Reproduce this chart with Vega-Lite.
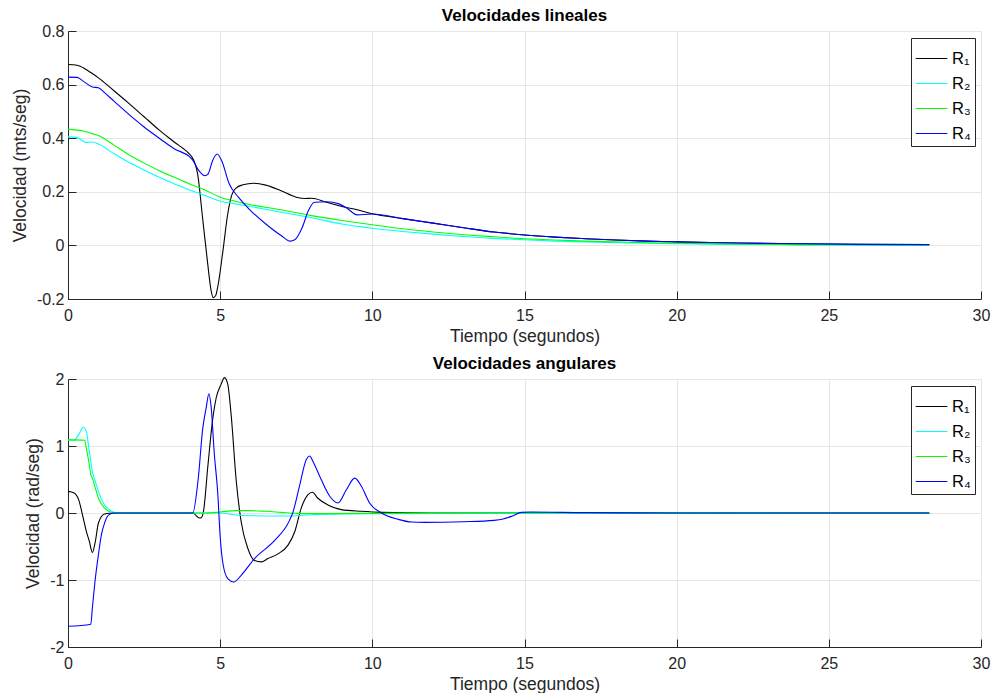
{
  "$schema": "https://vega.github.io/schema/vega-lite/v6.json",
  "padding": {"left": 10, "top": 6, "right": 0, "bottom": 0},
  "spacing": 9,
  "config": {
    "font": "Liberation Sans",
    "view": {"stroke": "#e6e6e6"},
    "axis": {
      "labelFont": "Liberation Sans", "labelFontSize": 16, "labelColor": "#262626",
      "titleFont": "Liberation Sans", "titleFontSize": 17.5, "titleFontWeight": "normal", "titleColor": "#262626",
      "gridColor": "#e6e6e6", "domainColor": "#262626", "tickColor": "#262626", "tickSize": -8
    },
    "axisX": {"labelPadding": 16, "titlePadding": 4, "labelFlush": false},
    "axisY": {"labelPadding": 12, "titlePadding": 7},
    "title": {"font": "Liberation Sans", "fontSize": 17, "fontWeight": "bold", "color": "#000000", "offset": -2},
    "legend": {
      "orient": "none", "legendX": 843, "legendY": 7, "strokeColor": "#262626", "fillColor": "white", "padding": 4,
      "labelFont": "Liberation Sans", "labelFontSize": 16.5, "labelColor": "#000000", "labelOffset": 4,
      "symbolType": "stroke", "symbolSize": 1000, "symbolStrokeWidth": 1.2, "rowPadding": -7, "title": null
    }
  },
  "datasets": {
    "lin": [
      {"s":"R₁","t":0,"v":0.675},{"s":"R₁","t":0.3,"v":0.672},{"s":"R₁","t":0.5,"v":0.663},{"s":"R₁","t":0.75,"v":0.645},{"s":"R₁","t":1,"v":0.625},{"s":"R₁","t":1.5,"v":0.578},{"s":"R₁","t":2,"v":0.53},{"s":"R₁","t":2.5,"v":0.48},{"s":"R₁","t":3,"v":0.43},{"s":"R₁","t":3.5,"v":0.385},{"s":"R₁","t":4,"v":0.34},{"s":"R₁","t":4.06,"v":0.332},{"s":"R₁","t":4.26,"v":0.266},{"s":"R₁","t":4.42,"v":0.105},{"s":"R₁","t":4.59,"v":-0.068},{"s":"R₁","t":4.7,"v":-0.167},{"s":"R₁","t":4.77,"v":-0.195},{"s":"R₁","t":4.85,"v":-0.188},{"s":"R₁","t":4.92,"v":-0.155},{"s":"R₁","t":5.08,"v":-0.03},{"s":"R₁","t":5.25,"v":0.118},{"s":"R₁","t":5.36,"v":0.18},{"s":"R₁","t":5.52,"v":0.214},{"s":"R₁","t":5.75,"v":0.226},{"s":"R₁","t":6.1,"v":0.232},{"s":"R₁","t":6.5,"v":0.225},{"s":"R₁","t":7,"v":0.204},{"s":"R₁","t":7.5,"v":0.18},{"s":"R₁","t":7.8,"v":0.175},{"s":"R₁","t":8,"v":0.176},{"s":"R₁","t":8.5,"v":0.161},{"s":"R₁","t":9,"v":0.145},{"s":"R₁","t":9.5,"v":0.133},{"s":"R₁","t":10,"v":0.118},{"s":"R₁","t":11,"v":0.1},{"s":"R₁","t":12,"v":0.083},{"s":"R₁","t":13,"v":0.066},{"s":"R₁","t":14,"v":0.05},{"s":"R₁","t":15,"v":0.039},{"s":"R₁","t":16,"v":0.031},{"s":"R₁","t":17,"v":0.025},{"s":"R₁","t":18,"v":0.02},{"s":"R₁","t":19,"v":0.016},{"s":"R₁","t":20,"v":0.013},{"s":"R₁","t":22,"v":0.009},{"s":"R₁","t":24,"v":0.006},{"s":"R₁","t":26,"v":0.004},{"s":"R₁","t":28.3,"v":0.003},
      {"s":"R₂","t":0,"v":0.405},{"s":"R₂","t":0.3,"v":0.402},{"s":"R₂","t":0.6,"v":0.384},{"s":"R₂","t":0.8,"v":0.386},{"s":"R₂","t":1,"v":0.378},{"s":"R₂","t":1.5,"v":0.343},{"s":"R₂","t":2,"v":0.31},{"s":"R₂","t":2.5,"v":0.281},{"s":"R₂","t":3,"v":0.254},{"s":"R₂","t":3.5,"v":0.229},{"s":"R₂","t":4,"v":0.207},{"s":"R₂","t":4.5,"v":0.186},{"s":"R₂","t":5,"v":0.165},{"s":"R₂","t":5.5,"v":0.155},{"s":"R₂","t":6,"v":0.145},{"s":"R₂","t":7,"v":0.124},{"s":"R₂","t":8,"v":0.103},{"s":"R₂","t":9,"v":0.08},{"s":"R₂","t":10,"v":0.064},{"s":"R₂","t":11,"v":0.052},{"s":"R₂","t":12,"v":0.042},{"s":"R₂","t":13,"v":0.033},{"s":"R₂","t":14,"v":0.026},{"s":"R₂","t":15,"v":0.021},{"s":"R₂","t":16,"v":0.016},{"s":"R₂","t":17,"v":0.013},{"s":"R₂","t":18,"v":0.01},{"s":"R₂","t":19,"v":0.008},{"s":"R₂","t":20,"v":0.006},{"s":"R₂","t":22,"v":0.004},{"s":"R₂","t":24,"v":0.002},{"s":"R₂","t":26,"v":0.001},{"s":"R₂","t":28.3,"v":0.0},
      {"s":"R₃","t":0,"v":0.433},{"s":"R₃","t":0.5,"v":0.427},{"s":"R₃","t":0.8,"v":0.417},{"s":"R₃","t":1,"v":0.41},{"s":"R₃","t":1.5,"v":0.375},{"s":"R₃","t":2,"v":0.338},{"s":"R₃","t":2.5,"v":0.307},{"s":"R₃","t":3,"v":0.279},{"s":"R₃","t":3.5,"v":0.254},{"s":"R₃","t":4,"v":0.229},{"s":"R₃","t":4.5,"v":0.207},{"s":"R₃","t":5,"v":0.18},{"s":"R₃","t":5.5,"v":0.165},{"s":"R₃","t":6,"v":0.152},{"s":"R₃","t":7,"v":0.133},{"s":"R₃","t":8,"v":0.111},{"s":"R₃","t":9,"v":0.093},{"s":"R₃","t":10,"v":0.077},{"s":"R₃","t":11,"v":0.062},{"s":"R₃","t":12,"v":0.05},{"s":"R₃","t":13,"v":0.04},{"s":"R₃","t":14,"v":0.032},{"s":"R₃","t":15,"v":0.025},{"s":"R₃","t":16,"v":0.02},{"s":"R₃","t":17,"v":0.016},{"s":"R₃","t":18,"v":0.013},{"s":"R₃","t":19,"v":0.01},{"s":"R₃","t":20,"v":0.008},{"s":"R₃","t":22,"v":0.005},{"s":"R₃","t":24,"v":0.003},{"s":"R₃","t":26,"v":0.002},{"s":"R₃","t":28.3,"v":0.001},
      {"s":"R₄","t":0,"v":0.628},{"s":"R₄","t":0.3,"v":0.627},{"s":"R₄","t":0.5,"v":0.613},{"s":"R₄","t":0.8,"v":0.591},{"s":"R₄","t":1,"v":0.588},{"s":"R₄","t":1.2,"v":0.57},{"s":"R₄","t":1.5,"v":0.539},{"s":"R₄","t":2,"v":0.489},{"s":"R₄","t":2.5,"v":0.442},{"s":"R₄","t":3,"v":0.4},{"s":"R₄","t":3.5,"v":0.36},{"s":"R₄","t":4,"v":0.33},{"s":"R₄","t":4.1,"v":0.318},{"s":"R₄","t":4.3,"v":0.279},{"s":"R₄","t":4.5,"v":0.26},{"s":"R₄","t":4.6,"v":0.266},{"s":"R₄","t":4.75,"v":0.316},{"s":"R₄","t":4.9,"v":0.341},{"s":"R₄","t":5.05,"v":0.316},{"s":"R₄","t":5.3,"v":0.229},{"s":"R₄","t":5.6,"v":0.18},{"s":"R₄","t":6,"v":0.13},{"s":"R₄","t":6.5,"v":0.08},{"s":"R₄","t":7,"v":0.037},{"s":"R₄","t":7.3,"v":0.016},{"s":"R₄","t":7.45,"v":0.021},{"s":"R₄","t":7.7,"v":0.068},{"s":"R₄","t":7.9,"v":0.13},{"s":"R₄","t":8.1,"v":0.161},{"s":"R₄","t":8.5,"v":0.163},{"s":"R₄","t":8.9,"v":0.155},{"s":"R₄","t":9.2,"v":0.136},{"s":"R₄","t":9.5,"v":0.114},{"s":"R₄","t":10,"v":0.117},{"s":"R₄","t":11,"v":0.1},{"s":"R₄","t":12,"v":0.083},{"s":"R₄","t":13,"v":0.066},{"s":"R₄","t":14,"v":0.05},{"s":"R₄","t":15,"v":0.039},{"s":"R₄","t":16,"v":0.031},{"s":"R₄","t":17,"v":0.025},{"s":"R₄","t":18,"v":0.02},{"s":"R₄","t":19,"v":0.016},{"s":"R₄","t":20,"v":0.013},{"s":"R₄","t":22,"v":0.009},{"s":"R₄","t":24,"v":0.006},{"s":"R₄","t":26,"v":0.004},{"s":"R₄","t":28.3,"v":0.003}
    ],
    "ang": [
      {"s":"R₁","t":0,"v":0.323},{"s":"R₁","t":0.2,"v":0.3},{"s":"R₁","t":0.35,"v":0.2},{"s":"R₁","t":0.5,"v":-0.075},{"s":"R₁","t":0.6,"v":-0.27},{"s":"R₁","t":0.7,"v":-0.42},{"s":"R₁","t":0.8,"v":-0.59},{"s":"R₁","t":0.9,"v":-0.42},{"s":"R₁","t":1,"v":-0.15},{"s":"R₁","t":1.2,"v":-0.015},{"s":"R₁","t":1.5,"v":0},{"s":"R₁","t":4.1,"v":0},{"s":"R₁","t":4.32,"v":-0.075},{"s":"R₁","t":4.38,"v":-0.07},{"s":"R₁","t":4.45,"v":0.02},{"s":"R₁","t":4.6,"v":0.72},{"s":"R₁","t":4.76,"v":1.42},{"s":"R₁","t":4.87,"v":1.72},{"s":"R₁","t":5.03,"v":1.92},{"s":"R₁","t":5.14,"v":2.02},{"s":"R₁","t":5.25,"v":1.92},{"s":"R₁","t":5.36,"v":1.47},{"s":"R₁","t":5.53,"v":0.47},{"s":"R₁","t":5.69,"v":-0.13},{"s":"R₁","t":5.91,"v":-0.53},{"s":"R₁","t":6.13,"v":-0.71},{"s":"R₁","t":6.35,"v":-0.73},{"s":"R₁","t":6.57,"v":-0.68},{"s":"R₁","t":6.9,"v":-0.61},{"s":"R₁","t":7.23,"v":-0.48},{"s":"R₁","t":7.45,"v":-0.28},{"s":"R₁","t":7.66,"v":0.07},{"s":"R₁","t":7.88,"v":0.27},{"s":"R₁","t":8.03,"v":0.31},{"s":"R₁","t":8.21,"v":0.22},{"s":"R₁","t":8.54,"v":0.12},{"s":"R₁","t":8.98,"v":0.05},{"s":"R₁","t":9.64,"v":0.025},{"s":"R₁","t":10.3,"v":0.01},{"s":"R₁","t":12,"v":0},{"s":"R₁","t":28.3,"v":0},
      {"s":"R₂","t":0,"v":1.085},{"s":"R₂","t":0.2,"v":1.085},{"s":"R₂","t":0.35,"v":1.17},{"s":"R₂","t":0.5,"v":1.28},{"s":"R₂","t":0.6,"v":1.22},{"s":"R₂","t":0.7,"v":0.92},{"s":"R₂","t":0.8,"v":0.62},{"s":"R₂","t":0.9,"v":0.47},{"s":"R₂","t":1,"v":0.32},{"s":"R₂","t":1.2,"v":0.12},{"s":"R₂","t":1.4,"v":0.035},{"s":"R₂","t":1.6,"v":0.005},{"s":"R₂","t":4.5,"v":0},{"s":"R₂","t":5,"v":0},{"s":"R₂","t":5.5,"v":-0.03},{"s":"R₂","t":6,"v":-0.04},{"s":"R₂","t":7,"v":-0.045},{"s":"R₂","t":7.5,"v":-0.04},{"s":"R₂","t":8,"v":-0.025},{"s":"R₂","t":9,"v":-0.015},{"s":"R₂","t":10,"v":-0.01},{"s":"R₂","t":15,"v":-0.005},{"s":"R₂","t":28.3,"v":0},
      {"s":"R₃","t":0,"v":1.095},{"s":"R₃","t":0.55,"v":1.085},{"s":"R₃","t":0.6,"v":0.97},{"s":"R₃","t":0.7,"v":0.72},{"s":"R₃","t":0.75,"v":0.57},{"s":"R₃","t":0.8,"v":0.52},{"s":"R₃","t":0.9,"v":0.37},{"s":"R₃","t":1,"v":0.22},{"s":"R₃","t":1.2,"v":0.075},{"s":"R₃","t":1.4,"v":0.015},{"s":"R₃","t":1.6,"v":0},{"s":"R₃","t":4.5,"v":0},{"s":"R₃","t":5,"v":0.015},{"s":"R₃","t":5.5,"v":0.035},{"s":"R₃","t":6,"v":0.035},{"s":"R₃","t":6.5,"v":0.025},{"s":"R₃","t":7,"v":0.01},{"s":"R₃","t":7.5,"v":-0.005},{"s":"R₃","t":8,"v":-0.01},{"s":"R₃","t":10,"v":-0.005},{"s":"R₃","t":15,"v":0},{"s":"R₃","t":28.3,"v":0},
      {"s":"R₄","t":0,"v":-1.69},{"s":"R₄","t":0.75,"v":-1.66},{"s":"R₄","t":0.8,"v":-1.42},{"s":"R₄","t":0.9,"v":-0.97},{"s":"R₄","t":1,"v":-0.62},{"s":"R₄","t":1.1,"v":-0.32},{"s":"R₄","t":1.2,"v":-0.15},{"s":"R₄","t":1.35,"v":-0.025},{"s":"R₄","t":1.5,"v":0},{"s":"R₄","t":4.1,"v":0},{"s":"R₄","t":4.27,"v":0.47},{"s":"R₄","t":4.43,"v":1.27},{"s":"R₄","t":4.54,"v":1.57},{"s":"R₄","t":4.63,"v":1.78},{"s":"R₄","t":4.7,"v":1.6},{"s":"R₄","t":4.81,"v":0.87},{"s":"R₄","t":4.92,"v":0.3},{"s":"R₄","t":5,"v":-0.35},{"s":"R₄","t":5.09,"v":-0.75},{"s":"R₄","t":5.25,"v":-0.98},{"s":"R₄","t":5.45,"v":-1.03},{"s":"R₄","t":5.69,"v":-0.93},{"s":"R₄","t":6.13,"v":-0.68},{"s":"R₄","t":6.79,"v":-0.41},{"s":"R₄","t":7.28,"v":-0.11},{"s":"R₄","t":7.39,"v":0.01},{"s":"R₄","t":7.61,"v":0.41},{"s":"R₄","t":7.83,"v":0.8},{"s":"R₄","t":7.94,"v":0.85},{"s":"R₄","t":8.05,"v":0.77},{"s":"R₄","t":8.27,"v":0.55},{"s":"R₄","t":8.6,"v":0.25},{"s":"R₄","t":8.87,"v":0.15},{"s":"R₄","t":9.15,"v":0.35},{"s":"R₄","t":9.42,"v":0.52},{"s":"R₄","t":9.64,"v":0.4},{"s":"R₄","t":9.91,"v":0.15},{"s":"R₄","t":10.3,"v":0},{"s":"R₄","t":10.85,"v":-0.095},{"s":"R₄","t":11.3,"v":-0.135},{"s":"R₄","t":11.7,"v":-0.14},{"s":"R₄","t":13,"v":-0.13},{"s":"R₄","t":14,"v":-0.11},{"s":"R₄","t":14.3,"v":-0.09},{"s":"R₄","t":14.6,"v":-0.045},{"s":"R₄","t":14.9,"v":0.01},{"s":"R₄","t":15.2,"v":0.015},{"s":"R₄","t":17,"v":0.005},{"s":"R₄","t":20,"v":0},{"s":"R₄","t":28.3,"v":0}
    ]
  },
  "resolve": {"legend": {"color": "independent"}, "scale": {"color": "independent"}},
  "vconcat": [
    {
      "width": 913, "height": 268,
      "title": {"text": "Velocidades lineales"},
      "data": {"name": "lin"},
      "mark": {"type": "line", "strokeWidth": 1.1, "interpolate": "monotone"},
      "encoding": {
        "x": {"field": "t", "type": "quantitative", "title": "Tiempo (segundos)",
              "scale": {"domain": [0, 30], "nice": false}, "axis": {"values": [0,5,10,15,20,25,30]}},
        "y": {"field": "v", "type": "quantitative", "title": "Velocidad (mts/seg)",
              "scale": {"domain": [-0.2, 0.8], "nice": false},
              "axis": {"values": [-0.2,0,0.2,0.4,0.6,0.8], "labelExpr": "datum.value < 0 ? '-' + format(-datum.value, '~g') : format(datum.value, '~g')"}},
        "color": {"field": "s", "type": "nominal",
                  "scale": {"domain": ["R₁","R₂","R₃","R₄"], "range": ["#000000","#00ffff","#00ff00","#0000ff"]}},
        "order": {"field": "t", "type": "quantitative"}
      }
    },
    {
      "width": 913, "height": 268,
      "title": {"text": "Velocidades angulares"},
      "data": {"name": "ang"},
      "mark": {"type": "line", "strokeWidth": 1.1, "interpolate": "monotone"},
      "encoding": {
        "x": {"field": "t", "type": "quantitative", "title": "Tiempo (segundos)",
              "scale": {"domain": [0, 30], "nice": false}, "axis": {"values": [0,5,10,15,20,25,30]}},
        "y": {"field": "v", "type": "quantitative", "title": "Velocidad (rad/seg)",
              "scale": {"domain": [-2, 2], "nice": false},
              "axis": {"values": [-2,-1,0,1,2], "labelExpr": "datum.value < 0 ? '-' + format(-datum.value, '~g') : format(datum.value, '~g')"}},
        "color": {"field": "s", "type": "nominal",
                  "scale": {"domain": ["R₁","R₂","R₃","R₄"], "range": ["#000000","#00ffff","#00ff00","#0000ff"]}},
        "order": {"field": "t", "type": "quantitative"}
      }
    }
  ]
}
